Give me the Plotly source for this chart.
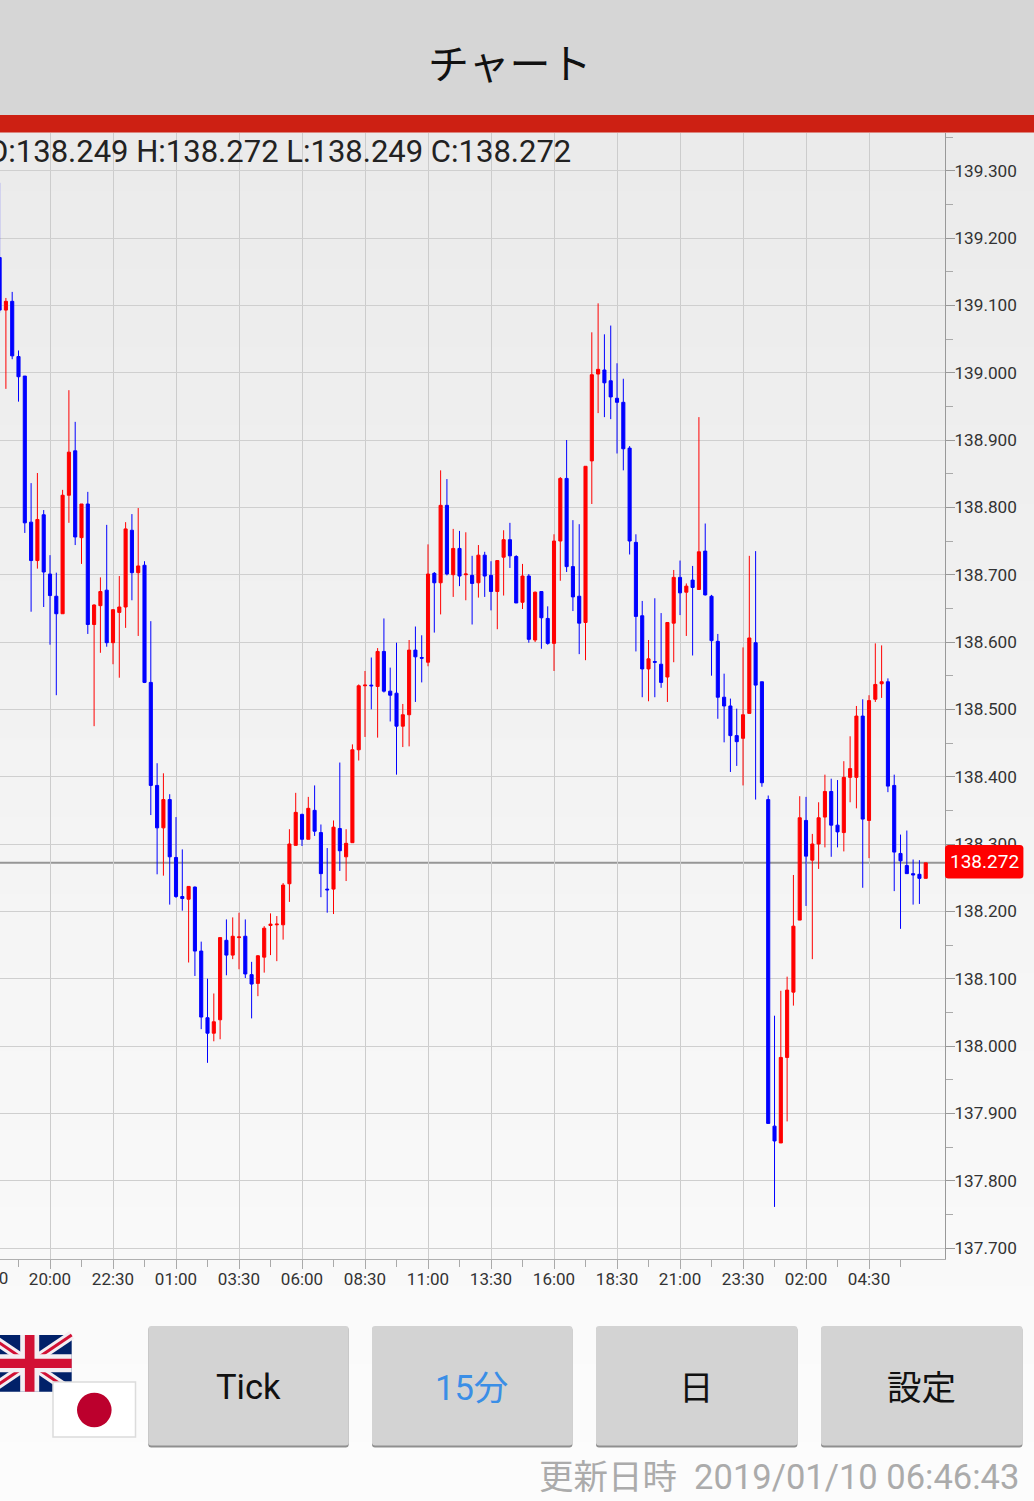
import plotly.graph_objects as go

W, H = 1034, 1501

opens = [139.171,139.093,139.106,139.024,138.995,138.778,138.721,138.789,138.701,138.668,
138.642,138.818,138.884,138.755,138.805,138.626,138.654,138.677,138.599,138.644,
138.652,138.766,138.703,138.714,138.540,138.387,138.324,138.366,138.280,138.222,
138.218,138.236,138.141,138.042,138.019,138.039,138.157,138.135,138.161,138.163,
138.106,138.093,138.132,138.179,138.180,138.180,138.241,138.298,138.344,138.307,
138.350,138.317,138.233,138.233,138.323,138.281,138.302,138.440,138.535,138.536,
138.534,138.586,138.527,138.524,138.475,138.492,138.588,138.577,138.570,138.702,
138.688,138.803,138.700,138.739,138.700,138.699,138.688,138.729,138.699,138.675,
138.726,138.752,138.727,138.659,138.698,138.603,138.675,138.635,138.598,138.750,
138.843,138.712,138.668,138.629,138.869,138.998,139.004,138.988,138.962,138.956,
138.888,138.748,138.639,138.560,138.571,138.567,138.548,138.628,138.696,138.674,
138.692,138.678,138.735,138.668,138.601,138.518,138.505,138.461,138.457,138.494,
138.599,138.541,138.366,137.881,137.856,137.983,138.080,138.187,138.335,138.276,
138.300,138.340,138.378,138.328,138.317,138.399,138.399,138.490,138.335,138.515,
138.538,138.541,138.387,138.286,138.268,138.256,138.255,138.249]

highs = [139.282,139.111,139.120,139.033,138.995,138.836,138.851,138.796,138.729,138.703,
138.826,138.974,138.927,138.805,138.823,138.656,138.696,138.774,138.649,138.698,
138.778,138.790,138.799,138.720,138.631,138.420,138.405,138.374,138.340,138.292,
138.237,138.237,138.155,138.100,138.078,138.161,138.188,138.191,138.198,138.188,
138.125,138.135,138.178,138.197,138.193,138.242,138.322,138.376,138.345,138.370,
138.387,138.329,138.294,138.335,138.421,138.322,138.448,138.537,138.557,138.577,
138.591,138.635,138.562,138.599,138.508,138.603,138.623,138.610,138.745,138.704,
138.855,138.842,138.768,138.765,138.763,138.728,138.744,138.734,138.720,138.721,
138.766,138.777,138.729,138.716,138.701,138.675,138.675,138.653,138.760,138.845,
138.900,138.781,138.775,138.861,139.060,139.103,139.057,139.070,139.014,138.991,
138.891,138.760,138.661,138.603,138.665,138.643,138.629,138.707,138.721,138.687,
138.713,138.934,138.776,138.670,138.612,138.553,138.516,138.501,138.592,138.728,
138.735,138.541,138.372,138.045,138.082,138.103,138.254,138.371,138.370,138.315,
138.362,138.403,138.397,138.395,138.423,138.460,138.505,138.515,138.521,138.598,
138.595,138.546,138.403,138.314,138.320,138.277,138.276,138.272]

lows = [139.089,138.976,139.020,138.957,138.762,138.645,138.709,138.652,138.596,138.521,
138.642,138.777,138.744,138.716,138.612,138.475,138.584,138.593,138.567,138.547,
138.621,138.662,138.609,138.539,138.343,138.255,138.253,138.210,138.220,138.201,
138.124,138.104,138.025,137.975,138.007,138.010,138.105,138.129,138.114,138.101,
138.041,138.074,138.109,138.135,138.126,138.158,138.214,138.298,138.297,138.307,
138.312,138.221,138.198,138.196,138.260,138.245,138.302,138.424,138.459,138.500,
138.458,138.525,138.482,138.403,138.444,138.445,138.511,138.540,138.564,138.614,
138.641,138.699,138.667,138.683,138.662,138.626,138.666,138.667,138.647,138.619,
138.669,138.710,138.658,138.649,138.599,138.600,138.590,138.596,138.557,138.691,
138.704,138.646,138.582,138.573,138.805,138.940,138.934,138.931,138.880,138.855,
138.730,138.586,138.518,138.512,138.518,138.532,138.511,138.570,138.640,138.609,
138.580,138.678,138.669,138.550,138.486,138.451,138.407,138.416,138.387,138.494,
138.366,138.385,137.885,137.761,137.856,137.888,138.060,138.187,138.208,138.129,
138.263,138.295,138.281,138.295,138.289,138.362,138.353,138.235,138.279,138.511,
138.517,138.377,138.230,138.174,138.256,138.210,138.211,138.249]

closes = [139.093,139.106,139.025,138.994,138.777,138.721,138.782,138.704,138.669,138.642,
138.818,138.882,138.756,138.805,138.626,138.655,138.675,138.599,138.648,138.652,
138.768,138.703,138.713,138.540,138.387,138.324,138.366,138.281,138.222,138.219,
138.237,138.141,138.043,138.019,138.036,138.161,138.135,138.163,138.162,138.107,
138.092,138.134,138.175,138.181,138.181,138.239,138.300,138.347,138.307,138.353,
138.319,138.256,138.232,138.325,138.290,138.301,138.440,138.535,138.536,138.535,
138.586,138.527,138.521,138.475,138.492,138.588,138.578,138.576,138.701,138.688,
138.803,138.701,138.739,138.698,138.701,138.687,138.729,138.698,138.675,138.721,
138.752,138.728,138.658,138.698,138.604,138.674,138.636,138.598,138.750,138.843,
138.712,138.667,138.628,138.861,138.997,139.005,138.985,138.964,138.956,138.887,
138.750,138.638,138.560,138.575,138.570,138.540,138.629,138.696,138.673,138.683,
138.681,138.734,138.670,138.602,138.518,138.505,138.461,138.452,138.492,138.606,
138.536,138.391,137.885,137.859,137.983,138.083,138.178,138.339,138.282,138.300,
138.339,138.378,138.328,138.318,138.399,138.412,138.490,138.337,138.513,138.537,
138.541,138.386,138.288,138.275,138.256,138.254,138.249,138.272]

time_labels = ["20:00","22:30","01:00","03:30","06:00","08:30","11:00","13:30",
               "16:00","18:30","21:00","23:30","02:00","04:30"]
clipped_time_label = "17:30"
price_ticks = [139.3,139.2,139.1,139.0,138.9,138.8,138.7,138.6,138.5,138.4,138.3,138.2,138.1,138.0,137.9,137.8,137.7]
last_price = 138.272
ohlc_text = "O:138.249 H:138.272 L:138.249 C:138.272"
title_text = "チャート"
button_labels = ["Tick", "15分", "日", "設定"]
updated_text = "更新日時  2019/01/10 06:46:43"

CJK = "Noto Sans CJK JP"
ROBOTO = "Roboto"
MIXED = "Roboto, 'Noto Sans CJK JP'"
X_RANGE = [0.063, 150.06]

def fx(x):
    return x / W

def fy(y):
    return 1 - y / H

def rect(x0, y0, x1, y1, fill, layer="below", line=None):
    s = dict(type="rect", xref="paper", yref="paper", x0=fx(x0), x1=fx(x1), y0=fy(y0), y1=fy(y1),
             fillcolor=fill, layer=layer, line=dict(width=0))
    if line:
        s["line"] = line
    return s

def round_rect(x0, y0, x1, y1, r, fill, layer="below"):
    p = (f"M {fx(x0+r)} {fy(y0)} L {fx(x1-r)} {fy(y0)} Q {fx(x1)} {fy(y0)} {fx(x1)} {fy(y0+r)} "
         f"L {fx(x1)} {fy(y1-r)} Q {fx(x1)} {fy(y1)} {fx(x1-r)} {fy(y1)} "
         f"L {fx(x0+r)} {fy(y1)} Q {fx(x0)} {fy(y1)} {fx(x0)} {fy(y1-r)} "
         f"L {fx(x0)} {fy(y0+r)} Q {fx(x0)} {fy(y0)} {fx(x0+r)} {fy(y0)} Z")
    return dict(type="path", xref="paper", yref="paper", path=p, fillcolor=fill, layer=layer, line=dict(width=0))

def seg(x0, y0, x1, y1, color, width):
    return dict(type="line", xref="paper", yref="paper", x0=fx(x0), x1=fx(x1), y0=fy(y0), y1=fy(y1),
                line=dict(color=color, width=width), layer="below")

shapes = []
# page gradient under the chart and the controls
strips = 70
top, bottom = 132, H
c0, c1 = 235, 252
for k in range(strips):
    y0 = top + (bottom - top) * k / strips
    y1 = top + (bottom - top) * (k + 1) / strips + 1
    v = round(c0 + (c1 - c0) * k / (strips - 1))
    shapes.append(rect(0, y0, W, y1, f"rgb({v},{v},{v})"))
# header
shapes.append(rect(0, 0, W, 115.5, "#d6d6d6"))
shapes.append(rect(0, 115, W, 132.5, "#cd2013"))
# buttons
buttons = [(148.3, 348.7), (372, 572.4), (596, 797.4), (821, 1022.4)]
for x0, x1 in buttons:
    shapes.append(round_rect(x0, 1327, x1, 1447.6, 3, "#8f8f8f"))
    shapes.append(round_rect(x0, 1326, x1, 1445.6, 3, "#d3d3d3"))
# flags
ux0, ux1, uy0, uy1 = -12.3, 71.7, 1335, 1391.7
ucx, ucy = (ux0 + ux1) / 2, (uy0 + uy1) / 2
shapes.append(rect(ux0, uy0, ux1, uy1, "#012169"))
shapes.append(seg(ux0, uy0, ux1, uy1, "#f3eef2", 9))
shapes.append(seg(ux0, uy1, ux1, uy0, "#f3eef2", 9))
shapes.append(seg(ux0, uy0, ux1, uy1, "#d21034", 3))
shapes.append(seg(ux0, uy1, ux1, uy0, "#d21034", 3))
shapes.append(rect(ucx - 9.5, uy0, ucx + 9.5, uy1, "#f3eef2"))
shapes.append(rect(ux0, ucy - 9, ux1, ucy + 9, "#f3eef2"))
shapes.append(rect(ucx - 4.8, uy0, ucx + 4.8, uy1, "#d21034"))
shapes.append(rect(ux0, ucy - 4.6, ux1, ucy + 4.6, "#d21034"))
shapes.append(rect(53, 1382, 135.5, 1437, "#ffffff", line=dict(color="#dcdcdc", width=1.5)))
shapes.append(dict(type="circle", xref="paper", yref="paper", x0=fx(77), x1=fx(111.6), y0=fy(1392.7), y1=fy(1427.3),
                   fillcolor="#bc002d", layer="below", line=dict(width=0)))
# last price line and flag
shapes.append(dict(type="line", xref="x", yref="y", x0=X_RANGE[0], x1=X_RANGE[1], y0=last_price, y1=last_price,
                   line=dict(color="#969696", width=2), layer="below"))
shapes.append(round_rect(945, 845, 1023.4, 878.4, 3.5, "#ff0000", layer="above"))

x = list(range(len(opens)))
major_ticks = list(range(8, 139, 10))
minor_ticks = list(range(3, 144, 10))

fig = go.Figure(go.Candlestick(
    x=x, open=opens, high=highs, low=lows, close=closes,
    increasing=dict(line=dict(color="#ff0000", width=1), fillcolor="#ff0000"),
    decreasing=dict(line=dict(color="#0000ff", width=1), fillcolor="#0000ff"),
    whiskerwidth=0, showlegend=False,
))

def note(text, x, y, size, color, font=ROBOTO, anchor="center"):
    return dict(text=text, xref="paper", yref="paper", x=fx(x), y=fy(y), xanchor=anchor, yanchor="middle",
                showarrow=False, font=dict(family=font, size=size, color=color))

annotations = [
    note(title_text, 510, 60.5, 41, "#111111", CJK),
    note(ohlc_text, -15, 151, 31, "#222222", ROBOTO, "left"),
    note(clipped_time_label, -13, 1278, 17, "#333333"),
    note(f"{last_price:.3f}", 984, 861.7, 19, "#ffffff"),
    note(button_labels[0], 248.5, 1387, 34.5, "#111111"),
    note(button_labels[1], 471.5, 1388, 34.5, "#3a8ee6", MIXED),
    note(button_labels[2], 696.5, 1385, 34.5, "#111111", CJK),
    note(button_labels[3], 921.5, 1385, 34.5, "#111111", CJK),
    note(updated_text, 1021, 1477, 34.5, "#ababab", MIXED, "right"),
]

fig.update_layout(
    width=W, height=H, autosize=False,
    margin=dict(l=0, r=0, t=0, b=0, pad=0),
    paper_bgcolor="#fbfbfb", plot_bgcolor="rgba(0,0,0,0)",
    showlegend=False, boxgap=0.3,
    shapes=shapes, annotations=annotations,
    xaxis=dict(
        domain=[0, 945 / W], range=X_RANGE,
        rangeslider=dict(visible=False),
        tickmode="array", tickvals=major_ticks, ticktext=time_labels,
        ticks="outside", ticklen=9, tickcolor="#aaaaaa", tickwidth=1,
        tickfont=dict(family=ROBOTO, size=17, color="#333333"),
        ticklabelstandoff=-4,
        showgrid=True, gridcolor="#cccccc", gridwidth=1,
        showline=True, linecolor="#b0b0b0", linewidth=1, zeroline=False,
        minor=dict(tickmode="array", tickvals=minor_ticks, ticks="outside", ticklen=7,
                   tickcolor="#aaaaaa", tickwidth=1, showgrid=False),
        anchor="y",
    ),
    yaxis=dict(
        domain=[1 - 1258.5 / H, 1 - 133 / H], range=[137.6844, 139.356],
        side="right", anchor="x",
        tickmode="array", tickvals=price_ticks, ticktext=[f"{t:.3f}" for t in price_ticks],
        ticks="outside", ticklen=9, tickcolor="#999999", tickwidth=1,
        tickfont=dict(family=ROBOTO, size=17.2, color="#333333"),
        ticklabelstandoff=-4,
        showgrid=True, gridcolor="#cfcfcf", gridwidth=1,
        showline=True, linecolor="#999999", linewidth=1, zeroline=False,
        minor=dict(dtick=0.05, tick0=137.7, ticks="outside", ticklen=7, tickcolor="#aaaaaa", tickwidth=1, showgrid=False),
    ),
)

fig.write_html("out.html", config=dict(displayModeBar=False),
               post_script="document.body.style.margin='0';document.documentElement.style.overflow='hidden';")
